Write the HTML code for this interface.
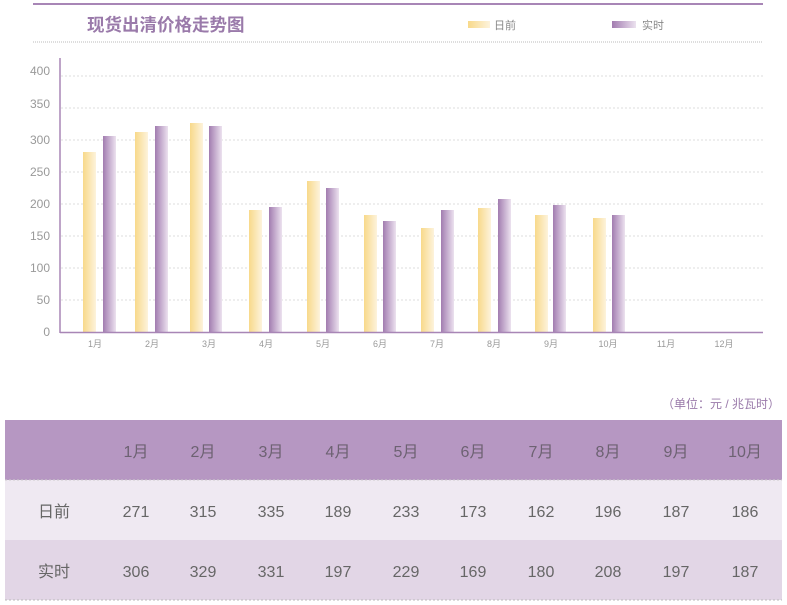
<!DOCTYPE html>
<html><head><meta charset="utf-8"><style>
body{margin:0;background:#fff;width:787px;height:605px;overflow:hidden;font-family:"Liberation Sans","Noto Sans CJK SC",sans-serif}
</style></head><body>
<svg width="787" height="605" xmlns="http://www.w3.org/2000/svg" style="position:absolute;left:0;top:0">
<defs>
<linearGradient id="y" x1="0" x2="1"><stop offset="0" stop-color="#f8d98a"/><stop offset="1" stop-color="#fdf3dc"/></linearGradient>
<linearGradient id="p" x1="0" x2="1"><stop offset="0" stop-color="#a27cb0"/><stop offset="1" stop-color="#ece2ef"/></linearGradient>
</defs>
<line x1="33" y1="4" x2="763" y2="4" stroke="#a886b6" stroke-width="2"/>
<text x="87" y="31" font-size="17.5" font-weight="bold" fill="#9a7aaa">现货出清价格走势图</text>
<rect x="468" y="21" width="22" height="7" fill="url(#y)"/>
<text x="494" y="29" font-size="11" fill="#888">日前</text>
<rect x="612" y="21" width="24" height="7" fill="url(#p)"/>
<text x="642" y="29" font-size="11" fill="#888">实时</text>
<line x1="33" y1="42" x2="763" y2="42" stroke="#bbb" stroke-dasharray="1,1"/>
<g stroke="#ddd" stroke-dasharray="2,2">
<line x1="61" y1="76" x2="763" y2="76"/><line x1="61" y1="108" x2="763" y2="108"/><line x1="61" y1="140" x2="763" y2="140"/><line x1="61" y1="172" x2="763" y2="172"/><line x1="61" y1="204" x2="763" y2="204"/><line x1="61" y1="236" x2="763" y2="236"/><line x1="61" y1="268" x2="763" y2="268"/><line x1="61" y1="300" x2="763" y2="300"/>
</g>
<g font-size="12" fill="#999" text-anchor="end">
<text x="50" y="75">400</text><text x="50" y="108">350</text><text x="50" y="144">300</text><text x="50" y="176">250</text><text x="50" y="208">200</text><text x="50" y="240">150</text><text x="50" y="272">100</text><text x="50" y="304">50</text><text x="50" y="336">0</text>
</g>
<g id="bars">
<rect x="83" y="152" width="13" height="180" fill="url(#y)"/><rect x="103" y="136" width="13" height="196" fill="url(#p)"/>
<rect x="135" y="132" width="13" height="200" fill="url(#y)"/><rect x="155" y="126" width="13" height="206" fill="url(#p)"/>
<rect x="190" y="123" width="13" height="209" fill="url(#y)"/><rect x="209" y="126" width="13" height="206" fill="url(#p)"/>
<rect x="249" y="210" width="13" height="122" fill="url(#y)"/><rect x="269" y="207" width="13" height="125" fill="url(#p)"/>
<rect x="307" y="181" width="13" height="151" fill="url(#y)"/><rect x="326" y="188" width="13" height="144" fill="url(#p)"/>
<rect x="364" y="215" width="13" height="117" fill="url(#y)"/><rect x="383" y="221" width="13" height="111" fill="url(#p)"/>
<rect x="421" y="228" width="13" height="104" fill="url(#y)"/><rect x="441" y="210" width="13" height="122" fill="url(#p)"/>
<rect x="478" y="208" width="13" height="124" fill="url(#y)"/><rect x="498" y="199" width="13" height="133" fill="url(#p)"/>
<rect x="535" y="215" width="13" height="117" fill="url(#y)"/><rect x="553" y="205" width="13" height="127" fill="url(#p)"/>
<rect x="593" y="218" width="13" height="114" fill="url(#y)"/><rect x="612" y="215" width="13" height="117" fill="url(#p)"/>
</g>
<line x1="60" y1="58" x2="60" y2="333" stroke="#a886b6" stroke-width="1.5"/>
<line x1="60" y1="332.5" x2="763" y2="332.5" stroke="#a886b6" stroke-width="1.5"/>
<g font-size="9" fill="#999" text-anchor="middle">
<text x="95" y="347">1月</text><text x="152" y="347">2月</text><text x="209" y="347">3月</text><text x="266" y="347">4月</text><text x="323" y="347">5月</text><text x="380" y="347">6月</text><text x="437" y="347">7月</text><text x="494" y="347">8月</text><text x="551" y="347">9月</text><text x="608" y="347">10月</text><text x="666" y="347">11月</text><text x="724" y="347">12月</text>
</g>
<text x="780" y="408" font-size="12" fill="#9a7aaa" text-anchor="end">（单位：元 / 兆瓦时）</text>
<rect x="5" y="420" width="777" height="60" fill="#b697c2"/>
<rect x="5" y="480" width="777" height="60" fill="#efe9f2"/>
<rect x="5" y="540" width="777" height="60" fill="#e2d6e6"/>
<line x1="5" y1="480" x2="782" y2="480" stroke="#ccc" stroke-dasharray="2,2"/>
<line x1="5" y1="600" x2="782" y2="600" stroke="#bbb" stroke-dasharray="2,2"/>
<g font-size="16" fill="#6d6272" text-anchor="middle">
<text x="136" y="457">1月</text><text x="203" y="457">2月</text><text x="271" y="457">3月</text><text x="338" y="457">4月</text><text x="406" y="457">5月</text><text x="473" y="457">6月</text><text x="541" y="457">7月</text><text x="608" y="457">8月</text><text x="676" y="457">9月</text><text x="745" y="457">10月</text>
</g>
<g font-size="16" fill="#666" text-anchor="middle">
<text x="54" y="517">日前</text><text x="136" y="517">271</text><text x="203" y="517">315</text><text x="271" y="517">335</text><text x="338" y="517">189</text><text x="406" y="517">233</text><text x="473" y="517">173</text><text x="541" y="517">162</text><text x="608" y="517">196</text><text x="676" y="517">187</text><text x="745" y="517">186</text>
<text x="54" y="577">实时</text><text x="136" y="577">306</text><text x="203" y="577">329</text><text x="271" y="577">331</text><text x="338" y="577">197</text><text x="406" y="577">229</text><text x="473" y="577">169</text><text x="541" y="577">180</text><text x="608" y="577">208</text><text x="676" y="577">197</text><text x="745" y="577">187</text>
</g>
</svg>
</body></html>
